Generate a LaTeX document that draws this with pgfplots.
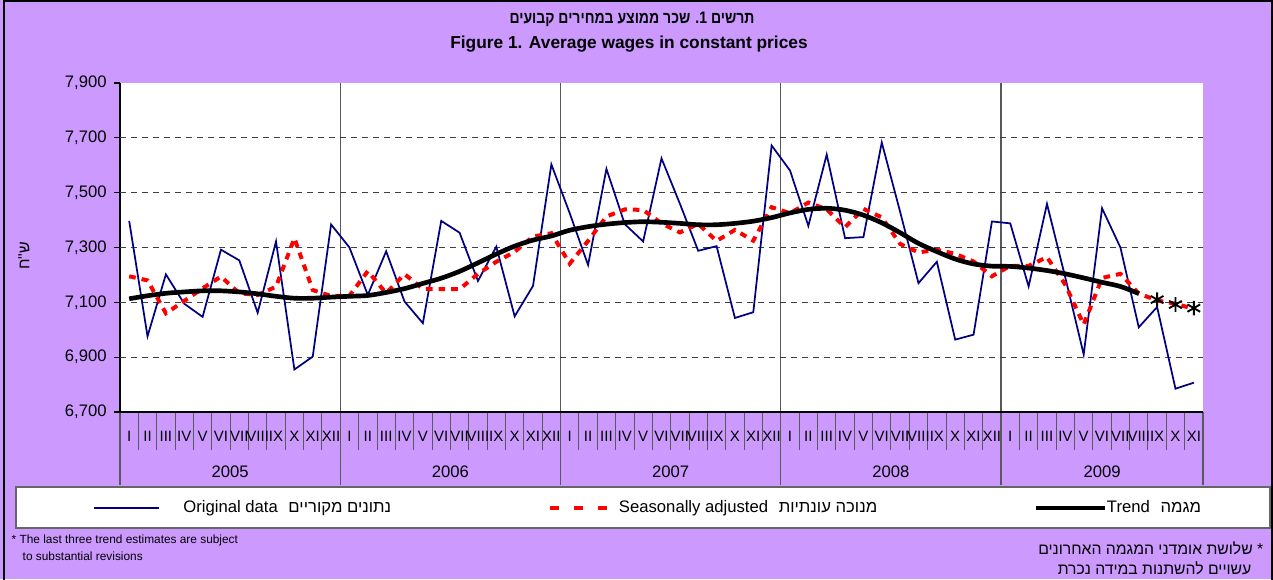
\documentclass[border=0pt]{standalone}
\usepackage{fontspec}
\setmainfont{Liberation Sans}
\newfontfamily\hebfont[Script=Hebrew]{Liberation Sans}
\TeXXeTstate=1
\usepackage{pgfplots}
\pgfplotsset{compat=1.18}
\definecolor{bgpurple}{RGB}{204,153,255}
\definecolor{navyblue}{RGB}{0,0,128}
\newcommand{\heb}[1]{{\hebfont\beginR #1\endR}}
\pgfplotsset{
  blueleg/.style={legend image code/.code={\draw[navyblue, line width=1.5pt] (0pt,0pt) -- (48.75pt,0pt); \path (66pt,0pt);}},
  redleg/.style={legend image code/.code={\draw[red, line width=3pt, dash pattern=on 6.75pt off 11.25pt] (0pt,0pt) -- (42.75pt,0pt); \path (50pt,0pt);}},
  blackleg/.style={legend image code/.code={\draw[black, line width=3pt] (0pt,0pt) -- (51.75pt,0pt);}},
}
\begin{document}
\begin{tikzpicture}
\begin{scope}[x=0.75pt, y=0.75pt, xshift=-90pt, yshift=309pt, yscale=-1]
\path[use as bounding box] (0,0) rectangle (1273,579);
\fill[bgpurple] (0,0) rectangle (1273,579);
\draw[black, line width=1.2pt] (4,1) rectangle (1272,582);
\fill[white] (120,83) rectangle (1203,412);
% year separators
\foreach \xx in {120,340.27,560.54,780.81,1001.08} \draw[black!65, line width=0.9pt] (\xx,83) -- (\xx,485);
\draw[black!65, line width=0.9pt] (1203,412) -- (1203,485);
% month separators
\foreach \k in {0,...,59} \draw[black!65, line width=0.7pt] ({120+18.3559*\k},412) -- ({120+18.3559*\k},450);
% titles
\node[font=\bfseries\fontsize{12.5}{14}\selectfont] at (632,19) {\scalebox{0.84}[1]{\heb{תרשים 1. שכר ממוצע במחירים קבועים}}};
\node[font=\bfseries\fontsize{13}{15}\selectfont] at (629,44) {Figure 1. Average wages in constant prices};
\node[rotate=90, font=\fontsize{12}{14}\selectfont] at (24,256) {\heb{ש"ח}};
% year labels
\foreach \yr/\c in {2005/6,2006/18,2007/30,2008/42,2009/53.5}
  \node[font=\fontsize{12.5}{14}\selectfont] at ({120+18.3559*\c},472) {\yr};
% legend box
\draw[black!60, line width=1pt, fill=white] (16,487) rectangle (1270,528);
% footnotes
\node[anchor=west, font=\fontsize{8.9}{10}\selectfont] at (7,540) {* The last three trend estimates are subject};
\node[anchor=west, font=\fontsize{8.9}{10}\selectfont] at (18,556) {to substantial revisions};
\node[anchor=east, font=\fontsize{11.8}{13}\selectfont] at (1268,548) {\heb{* שלושת אומדני המגמה האחרונים}};
\node[anchor=east, font=\fontsize{11.8}{13}\selectfont] at (1256,568) {\heb{עשויים להשתנות במידה נכרת}};
\end{scope}
\begin{axis}[
  scale only axis, width=812.25pt, height=246.75pt,
  xmin=-0.5, xmax=58.5, ymin=6700, ymax=7900,
  axis x line*=bottom, axis y line*=left,
  axis line style={black, line width=1.3pt},
  x axis line style={line width=1.6pt},
  xtick={0,...,58},
  xticklabels={I,II,III,IV,V,VI,VII,VIII,IX,X,XI,XII,
               I,II,III,IV,V,VI,VII,VIII,IX,X,XI,XII,
               I,II,III,IV,V,VI,VII,VIII,IX,X,XI,XII,
               I,II,III,IV,V,VI,VII,VIII,IX,X,XI,XII,
               I,II,III,IV,V,VI,VII,VIII,IX,X,XI},
  xtick style={draw=none},
  xticklabel style={font=\fontsize{11.25}{12}\selectfont, anchor=center, yshift=-14pt},
  ytick={6700,6900,...,7900},
  ytick style={black, line width=0.8pt},
  tick align=outside, major tick length=4.5pt,
  yticklabel style={font=\fontsize{12.5}{14}\selectfont, xshift=-2pt},
  /pgf/number format/.cd, 1000 sep={,}, assume math mode=true, /pgfplots/.cd,
  extra y ticks={6900,7100,7300,7500,7700},
  extra y tick labels={},
  extra y tick style={grid=major, major tick length=0pt},
  grid style={black!75, line width=0.8pt, dash pattern=on 4.5pt off 3.75pt},
  clip=false,
  legend columns=3,
  legend style={at={(-0.0245,-0.2903)}, anchor=west, draw=none, fill=none,
    inner sep=0pt, outer sep=0pt, column sep=0pt,
    nodes={inner sep=0pt, font=\fontsize{12.5}{14}\selectfont}},
  legend cell align=left,
]
\addplot[navyblue, line width=1.3pt, blueleg]
coordinates {
(0,7397)(1,6976)(2,7202)(3,7095)(4,7047)(5,7292)(6,7253)(7,7062)(8,7322)(9,6855)(10,6902)(11,7384)
(12,7300)(13,7127)(14,7286)(15,7103)(16,7024)(17,7397)(18,7354)(19,7178)(20,7303)(21,7049)(22,7160)(23,7603)
(24,7425)(25,7236)(26,7587)(27,7385)(28,7322)(29,7625)(30,7460)(31,7288)(32,7305)(33,7043)(34,7064)(35,7672)
(36,7581)(37,7379)(38,7639)(39,7334)(40,7338)(41,7683)(42,7430)(43,7170)(44,7248)(45,6964)(46,6982)(47,7395)
(48,7388)(49,7158)(50,7459)(51,7190)(52,6910)(53,7443)(54,7300)(55,7009)(56,7083)(57,6785)(58,6807)
};
\addlegendentry{\makebox[273.75pt][l]{Original data\hspace{8pt}\heb{נתונים מקוריים}}}
\addplot[red, line width=3pt, dash pattern=on 5pt off 4.5pt, redleg]
coordinates {
(0,7195)(1,7180)(2,7060)(3,7105)(4,7151)(5,7194)(6,7133)(7,7127)(8,7157)(9,7334)(10,7145)(11,7123)
(12,7124)(13,7214)(14,7133)(15,7203)(16,7149)(17,7148)(18,7148)(19,7204)(20,7248)(21,7284)(22,7340)(23,7352)
(24,7241)(25,7324)(26,7413)(27,7439)(28,7437)(29,7388)(30,7355)(31,7386)(32,7324)(33,7364)(34,7325)(35,7447)
(36,7425)(37,7464)(38,7439)(39,7374)(40,7441)(41,7410)(42,7313)(43,7282)(44,7292)(45,7277)(46,7249)(47,7195)
(48,7233)(49,7233)(50,7265)(51,7164)(52,7019)(53,7189)(54,7204)(55,7132)(56,7107)(57,7095)(58,7076)
};
\addlegendentry{\makebox[311.25pt][l]{Seasonally adjusted\hspace{8pt}\heb{מנוכה עונתיות}}}
\addplot[black, line width=3.5pt, smooth, blackleg]
coordinates {
(0,7113)(1,7124)(2,7133)(3,7138)(4,7142)(5,7142)(6,7138)(7,7131)(8,7122)(9,7115)(10,7115)(11,7119)
(12,7122)(13,7125)(14,7136)(15,7150)(16,7169)(17,7188)(18,7213)(19,7244)(20,7276)(21,7305)(22,7327)(23,7342)
(24,7363)(25,7376)(26,7385)(27,7391)(28,7394)(29,7392)(30,7388)(31,7383)(32,7383)(33,7388)(34,7396)(35,7409)
(36,7426)(37,7439)(38,7443)(39,7436)(40,7418)(41,7390)(42,7354)(43,7315)(44,7285)(45,7258)(46,7240)(47,7232)
(48,7231)(49,7225)(50,7216)(51,7204)(52,7189)(53,7173)(54,7158)(55,7132)
};
\addlegendentry{Trend\hspace{8pt}\heb{מגמה}}
\addplot[forget plot, only marks, mark=asterisk, mark size=5.5pt, black, mark options={line width=1.4pt}]
coordinates {(56,7110)(57,7092)(58,7079)};
\end{axis}
\end{tikzpicture}
\end{document}
